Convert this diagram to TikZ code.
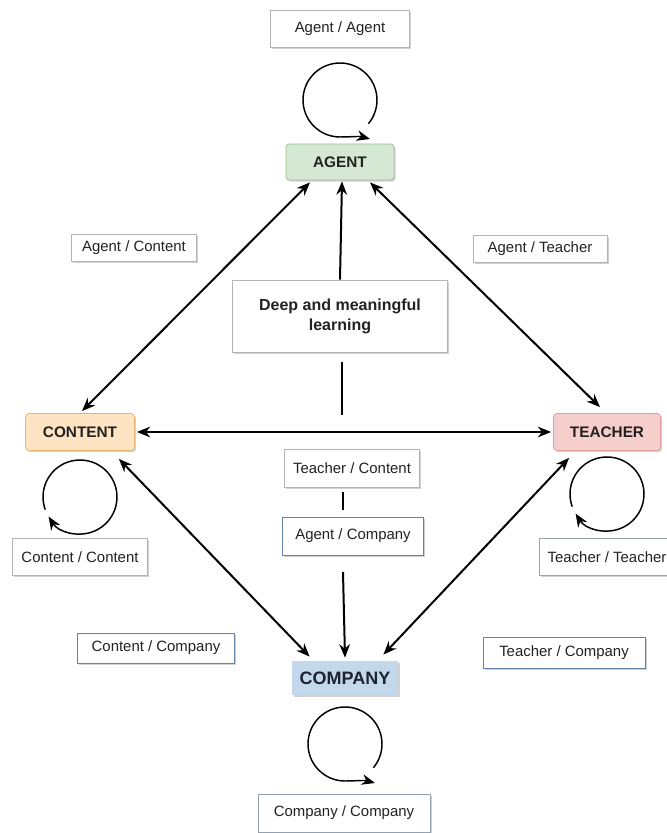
\documentclass[tikz,border=0pt]{standalone}
\usepackage{fontspec}
\setmainfont{Liberation Sans}
\usetikzlibrary{arrows.meta,shadows,calc}

\definecolor{txt}{HTML}{222222}
\definecolor{lblgray}{HTML}{B4B4B4}
\definecolor{lblblue}{HTML}{6282A8}
\definecolor{agentfill}{HTML}{D5E8D4}
\definecolor{agentline}{HTML}{9CC48C}
\definecolor{contentfill}{HTML}{FFE4C4}
\definecolor{contentline}{HTML}{E3B978}
\definecolor{teacherfill}{HTML}{F6CFCD}
\definecolor{teacherline}{HTML}{DFA09D}
\definecolor{companyfill}{HTML}{C3D8EB}
\definecolor{companytext}{HTML}{1C2433}

\tikzset{
  sz/.style 2 args={minimum width=#1*0.75pt, minimum height=#2*0.75pt},
  softshadow/.style={drop shadow={shadow xshift=1.2pt, shadow yshift=-1.2pt, opacity=0.3, fill=black!60}},
  lbl/.style={draw=lblgray, line width=0.6pt, fill=white, softshadow, inner sep=0pt,
    text=txt, font=\fontsize{11.2}{13.5}\selectfont},
  lblb/.style={lbl, draw=lblblue},
  ent/.style={rounded corners=2.5pt, line width=0.6pt, softshadow, inner sep=0pt,
    text=txt, font=\fontsize{11.5}{14}\selectfont\bfseries},
  conn/.style={line width=1.5pt, draw=black, {Stealth[length=10pt, width=8pt]}-{Stealth[length=10pt, width=8pt]}},
  oneway/.style={line width=1.5pt, draw=black, -{Stealth[length=10pt, width=8pt]}},
  plainline/.style={line width=1.5pt, draw=black},
  selfloop/.style={line width=1.1pt, draw=black, -{Stealth[length=10pt, width=8pt]}},
}

\begin{document}
\begin{tikzpicture}[x=0.75pt, y=0.75pt]
  \useasboundingbox (0,0) rectangle (667,833);

  % main entities
  \node[ent, fill=agentfill, draw=agentline, sz={108}{36}] (agent) at (340,671) {AGENT};
  \node[ent, fill=contentfill, draw=contentline, sz={109}{37}] (content) at (80,401) {CONTENT};
  \node[ent, fill=teacherfill, draw=teacherline, sz={107}{37}] (teacher) at (607,401) {TEACHER};
  \node[ent, fill=companyfill, draw=none, rounded corners=0pt, sz={106}{34},
        font=\fontsize{13.5}{16}\selectfont\bfseries, text=companytext] (company) at (345,155) {COMPANY};

  % vertical axis through the centre, partly hidden behind labels
  \coordinate (v1) at (342,471);
  \coordinate (v2) at (342,418);
  \coordinate (v3) at (343,341);
  \coordinate (v4) at (343,323);
  \coordinate (v5) at (343,261);
  \draw[plainline] (v1) -- (v2);
  \draw[plainline] (v3) -- (v4);
  \draw[oneway] (v5) -- ($(company.north)+(0,3)$);

  % relationship labels
  \node[lbl, sz={139}{37}] (aa) at (340,804) {Agent / Agent};
  \node[lbl, sz={125}{27}] (ac) at (134,585) {Agent / Content};
  \node[lbl, sz={134}{27}] (at) at (540,584) {Agent / Teacher};
  \node[lbl, sz={215}{72}, align=center, font=\fontsize{12}{15}\selectfont\bfseries] (deep) at (340,517)
       {Deep and meaningful\\learning};
  \node[lbl, sz={135}{38}] (tc) at (352,365) {Teacher / Content};
  \node[lblb, sz={141}{38}] (acomp) at (353,297) {Agent / Company};
  \node[lbl, sz={135}{37}] (cc) at (80,276) {Content / Content};
  \node[lbl, draw=lblgray!70!lblblue, sz={135}{37}] (tt) at (607,276) {Teacher / Teacher};
  \node[lblb, sz={157}{30}] (ccomp) at (156,185) {Content / Company};
  \node[lblb, sz={162}{31}] (tcomp) at (564,180) {Teacher / Company};
  \node[lbl, draw=lblgray!60!lblblue, sz={172}{38}] (compcomp) at (344,20) {Company / Company};

  % arrow from the learning box up to the agent
  \draw[oneway] (deep.north) -- ($(agent.south)+(2,-1)$);

  % two-way relations
  \draw[conn] ($(agent.south)+(-30,-2)$) -- ($(content.north)+(2,2)$);
  \draw[conn] ($(agent.south)+(30,-2)$) -- ($(teacher.north)+(-7,6)$);
  \draw[conn] ($(content.east)+(2,0)$) -- ($(teacher.west)+(-2,0)$);
  \draw[conn] ($(content.south east)+(-16,-8)$) -- ($(company.north west)+(18,4)$);
  \draw[conn] ($(teacher.south west)+(16,-7)$) -- ($(company.north east)+(-15,6)$);

  % self relations
  \coordinate (la) at (340,733);
  \draw[selfloop] ($(la)+(-40:27.75pt)$) arc[start angle=-40, end angle=270, radius=27.75pt]
        to[out=0, in=165] ($(la)+(30,-39)$);
  \coordinate (lm) at (345,89);
  \draw[selfloop] ($(lm)+(-40:27.75pt)$) arc[start angle=-40, end angle=270, radius=27.75pt]
        to[out=0, in=165] ($(lm)+(30,-39)$);
  \coordinate (lc) at (80,336);
  \draw[selfloop] ($(lc)+(200:27.75pt)$) arc[start angle=200, end angle=-148, radius=27.75pt];
  \coordinate (lt) at (607,339);
  \draw[selfloop] ($(lt)+(200:27.75pt)$) arc[start angle=200, end angle=-148, radius=27.75pt];
\end{tikzpicture}
\end{document}
